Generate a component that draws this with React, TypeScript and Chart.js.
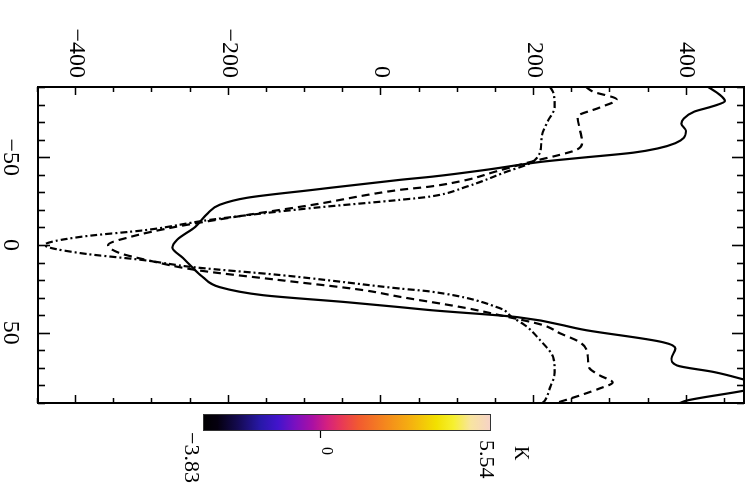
import React, { useEffect, useRef } from "react";
import { Chart, registerables } from "chart.js";

Chart.register(...registerables);

// Position along the cut (x) and the three profiles (y)
const POS_SOLID = [-90, -86, -82, -79, -76, -72, -69, -65, -61, -58, -55, -52.6, -49.7, -47.4, -43, -39, -37.1, -31.4, -26.9, -22.9, -18.3, -10.3, -2.9, 1.5, 7.4, 13.1, 18.3, 24, 28.6, 32.6, 35.4, 37.1, 41.1, 48.6, 55.4, 59, 64.7, 68.6, 72.4, 77.1, 80, 82.9, 88.6, 90];
const VAL_SOLID = [428, 442, 450, 434, 410, 396, 393, 399, 396, 385, 362, 330, 262, 210, 140, 68, 24, -90, -176, -212, -227, -244, -268, -274, -260, -247, -234, -212, -155, -45, 24, 64, 178, 269, 369, 385, 380, 387, 436, 479, 505, 476, 400, 391];

const POS_DASHED = [-90, -87.4, -82.9, -78.3, -73.1, -65.7, -58.9, -54.3, -51.4, -47.6, -41.9, -37.1, -33.3, -31.4, -22.9, -17.1, -10.3, -4.6, 0, 4.6, 8.6, 14.3, 20, 25.7, 29.5, 36, 40, 45.7, 50.3, 55.4, 61.7, 69.7, 74.3, 78.3, 81.7, 85.7, 89.7];
const VAL_DASHED = [268, 277, 308, 286, 257, 260, 263, 256, 234, 198, 150, 112, 64, 24, -90, -176, -270, -329, -358, -343, -307, -242, -133, -24, 24, 112, 155, 212, 234, 260, 270, 272, 286, 303, 286, 260, 231];

const POS_DASHDOT = [-90, -86.9, -78.9, -69.7, -61.7, -53.1, -47.4, -45.7, -41.9, -33.3, -27.6, -25.7, -21.1, -14.3, -8.6, -4.6, 0, 4.6, 8.6, 12.6, 17.1, 18.9, 24.8, 26.5, 36, 41.1, 45.7, 54.3, 64, 72.6, 81.1, 88.6, 90];
const VAL_DASHDOT = [221, 225, 227, 217, 210, 208, 198, 190, 165, 112, 64, 24, -90, -225, -307, -395, -441, -395, -312, -247, -133, -94, 24, 64, 155, 171, 188, 208, 225, 227, 221, 214, 211];

// Axis ranges and labelled ticks
const POS_RANGE = [-90, 90];
const VAL_RANGE = [-450, 475];
const POS_LABELS = [-50, 0, 50];
const VAL_LABELS = [-400, -200, 0, 200, 400];
const POS_MINOR_STEP = 10;
const VAL_MINOR_STEP = 50;

// Colour bar
const CB_MIN = -3.83;
const CB_MAX = 5.54;
const CB_TICKS = [0];
const CB_UNIT = "K";
const CB_STOPS: [number, string][] = [
  [0.0, "#000000"],
  [0.05, "#05000f"],
  [0.12, "#140a50"],
  [0.2, "#2818a8"],
  [0.26, "#4214cc"],
  [0.32, "#7a10c0"],
  [0.38, "#aa10a4"],
  [0.43, "#d42080"],
  [0.48, "#e83858"],
  [0.54, "#f25a30"],
  [0.63, "#f4861e"],
  [0.72, "#f5b010"],
  [0.81, "#f2e000"],
  [0.87, "#f6f030"],
  [0.93, "#f8e4a0"],
  [1.0, "#f6d2c8"],
];

const W = 487;
const H = 753;
const FONT = '"Liberation Serif", "DejaVu Serif", serif';

const fmt = (v: number) => (v < 0 ? "\u2212" + Math.abs(v) : String(v));

const framePlugin = {
  id: "frameTicksColorbar",
  afterDraw(chart: any) {
    const { ctx, chartArea: a, scales } = chart;
    const xs = scales.x;
    const ys = scales.y;
    ctx.save();
    ctx.strokeStyle = "#000";
    ctx.lineWidth = 2;
    ctx.strokeRect(a.left, a.top, a.right - a.left, a.bottom - a.top);

    ctx.lineWidth = 1.6;
    ctx.beginPath();
    for (let p = POS_RANGE[0]; p <= POS_RANGE[1]; p += POS_MINOR_STEP) {
      const px = Math.round(xs.getPixelForValue(p)) + 0.5;
      const len = p % 50 === 0 ? 12 : 7;
      ctx.moveTo(px, a.bottom);
      ctx.lineTo(px, a.bottom - len);
      ctx.moveTo(px, a.top);
      ctx.lineTo(px, a.top + len);
    }
    for (let v = VAL_RANGE[0]; v <= VAL_RANGE[1]; v += VAL_MINOR_STEP) {
      const py = Math.round(ys.getPixelForValue(v)) + 0.5;
      const len = v % 200 === 0 ? 8 : 5;
      ctx.moveTo(a.left, py);
      ctx.lineTo(a.left + len, py);
      ctx.moveTo(a.right, py);
      ctx.lineTo(a.right - len, py);
    }
    ctx.stroke();

    // colour bar to the right of the plot
    const bx = 414;
    const bw = 17;
    const bTop = 262;
    const bBot = 550;
    const g = ctx.createLinearGradient(0, bBot, 0, bTop);
    CB_STOPS.forEach(([o, c]) => g.addColorStop(o, c));
    ctx.fillStyle = g;
    ctx.fillRect(bx, bTop, bw, bBot - bTop);
    ctx.lineWidth = 1;
    ctx.strokeStyle = "#333";
    ctx.strokeRect(bx + 0.5, bTop + 0.5, bw - 1, bBot - bTop - 1);

    const cbY = (v: number) => bBot - ((v - CB_MIN) / (CB_MAX - CB_MIN)) * (bBot - bTop);
    ctx.strokeStyle = "#000";
    ctx.lineWidth = 1.2;
    ctx.beginPath();
    CB_TICKS.forEach((t) => {
      const y = Math.round(cbY(t)) + 0.5;
      ctx.moveTo(bx + bw, y);
      ctx.lineTo(bx + bw + 7, y);
    });
    ctx.stroke();

    ctx.fillStyle = "#000";
    ctx.textAlign = "left";
    ctx.textBaseline = "alphabetic";
    ctx.font = `22px ${FONT}`;
    ctx.fillText(fmt(CB_MIN), 432, cbY(CB_MIN) + 18);
    ctx.fillText(CB_MAX.toFixed(2), 440, cbY(CB_MAX) + 11);
    ctx.font = `16px ${FONT}`;
    CB_TICKS.forEach((t) => ctx.fillText(fmt(t), 447, cbY(t) - 1));
    ctx.font = `20px ${FONT}`;
    ctx.fillText(CB_UNIT, 446, 238);
    ctx.restore();
  },
};

const toPoints = (xs: number[], ys: number[]) => xs.map((x, i) => ({ x, y: ys[i] }));

// keep the plot frame exactly where the layout padding puts it
const noScalePadding = (s: any) => {
  s.paddingTop = 0;
  s.paddingBottom = 0;
  s.paddingLeft = 0;
  s.paddingRight = 0;
};

export default function App() {
  const ref = useRef<HTMLCanvasElement | null>(null);

  useEffect(() => {
    if (!ref.current) return;
    const lineBase = {
      borderColor: "#000",
      borderWidth: 2.2,
      pointRadius: 0,
      fill: false,
      cubicInterpolationMode: "monotone" as const,
    };
    const chart = new Chart(ref.current, {
      type: "line",
      data: {
        datasets: [
          { ...lineBase, label: "solid", data: toPoints(POS_SOLID, VAL_SOLID) },
          { ...lineBase, label: "dashed", borderDash: [8, 5], data: toPoints(POS_DASHED, VAL_DASHED) },
          { ...lineBase, label: "dash-dot", borderDash: [7, 3, 2, 3], data: toPoints(POS_DASHDOT, VAL_DASHDOT) },
        ],
      },
      options: {
        responsive: false,
        animation: false,
        devicePixelRatio: 1,
        layout: { padding: { top: 9, right: 84, bottom: 0, left: 0 } },
        plugins: { legend: { display: false }, tooltip: { enabled: false } },
        scales: {
          x: {
            type: "linear",
            position: "bottom",
            min: POS_RANGE[0],
            max: POS_RANGE[1],
            grid: { display: false, drawTicks: false },
            border: { display: false },
            afterBuildTicks: (s: any) => {
              s.ticks = POS_LABELS.map((value) => ({ value }));
            },
            afterFit: (s: any) => {
              s.height = 38;
              noScalePadding(s);
            },
            ticks: {
              color: "#000",
              padding: 13,
              maxRotation: 0,
              autoSkip: false,
              font: { family: FONT, size: 24 },
              callback: (v: any) => fmt(Number(v)),
            },
          },
          y: {
            type: "linear",
            position: "left",
            min: VAL_RANGE[0],
            max: VAL_RANGE[1],
            grid: { display: false, drawTicks: false },
            border: { display: false },
            afterBuildTicks: (s: any) => {
              s.ticks = VAL_LABELS.map((value) => ({ value }));
            },
            afterFit: (s: any) => {
              s.width = 87;
              noScalePadding(s);
            },
            ticks: {
              color: "#000",
              padding: 9,
              autoSkip: false,
              font: { family: FONT, size: 24 },
              callback: (v: any) => fmt(Number(v)),
            },
          },
        },
      },
      plugins: [framePlugin],
    });
    return () => chart.destroy();
  }, []);

  return (
    <div style={{ position: "fixed", left: 0, top: 0, width: 753, height: 487, overflow: "hidden", background: "#fff" }}>
      <div
        style={{
          position: "absolute",
          left: 0,
          top: 0,
          width: W,
          height: H,
          transformOrigin: "0 0",
          transform: "translate(753px, 0px) rotate(90deg)",
        }}
      >
        <canvas ref={ref} width={W} height={H} style={{ width: W, height: H, display: "block" }} />
      </div>
    </div>
  );
}
